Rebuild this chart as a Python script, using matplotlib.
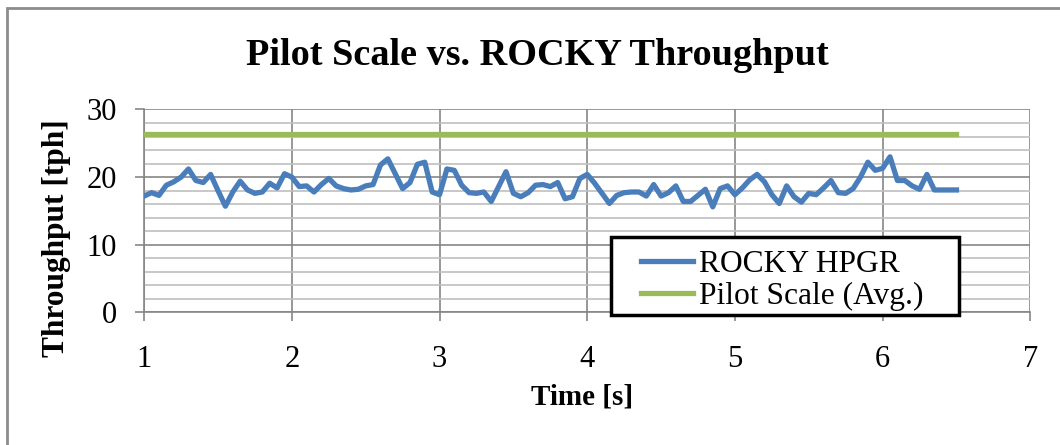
import numpy as np
import matplotlib.pyplot as plt
from matplotlib.patches import Rectangle
from matplotlib.ticker import MultipleLocator

# Dados (passo de 0.05 s)
tempo = np.round(np.arange(1.0, 6.5001, 0.05), 2)
rocky_hpgr = [
    17.2, 17.7, 17.3, 18.8, 19.3, 20.0, 21.2, 19.5, 19.2, 20.4,
    18.0, 15.7, 17.8, 19.4, 18.1, 17.6, 17.8, 19.1, 18.4, 20.5,
    20.0, 18.6, 18.7, 17.8, 18.9, 19.8, 18.7, 18.3, 18.1, 18.2,
    18.7, 18.9, 21.8, 22.7, 20.5, 18.3, 19.2, 21.9, 22.2, 17.8,
    17.4, 21.2, 21.0, 18.8, 17.7, 17.6, 17.8, 16.4, 18.6, 20.8,
    17.6, 17.1, 17.7, 18.8, 18.9, 18.6, 19.2, 16.8, 17.1, 19.8,
    20.4, 19.1, 17.6, 16.1, 17.3, 17.7, 17.8, 17.8, 17.2, 18.9,
    17.2, 17.7, 18.7, 16.4, 16.4, 17.3, 18.2, 15.6, 18.3, 18.7,
    17.4, 18.4, 19.6, 20.4, 19.3, 17.4, 16.1, 18.7, 17.1, 16.3,
    17.6, 17.4, 18.4, 19.5, 17.7, 17.6, 18.3, 20.0, 22.2, 21.0,
    21.3, 23.0, 19.5, 19.5, 18.7, 18.2, 20.4, 18.1, 18.1, 18.1, 18.1,
]
pilot_media = 26.4
pilot_x = [1.0, 6.5]
pilot_y = [pilot_media, pilot_media]

plt.rcParams['font.family'] = ['Liberation Serif', 'DejaVu Serif']

fig = plt.figure(figsize=(10.6, 4.45), dpi=100)
ax = fig.add_axes([0.136, 0.298, 0.836, 0.456])

# Moldura cinza da figura
fig.patches.append(Rectangle((7 / 1060, -0.1), 1.2, 1.1 - 8 / 445,
                             transform=fig.transFigure, fill=False,
                             edgecolor='#8c8c8c', linewidth=2))

ax.plot(tempo, rocky_hpgr, color='#4A7EBB', linewidth=3.8, label='ROCKY HPGR',
        zorder=3)
ax.plot(pilot_x, pilot_y, color='#9BBB59', linewidth=3.8, label='Pilot Scale (Avg.)',
        zorder=3)

ax.set_xlim(1, 7)
ax.set_ylim(0, 30)
ax.xaxis.set_major_locator(MultipleLocator(1))
ax.yaxis.set_major_locator(MultipleLocator(10))
ax.yaxis.set_minor_locator(MultipleLocator(2))

ax.grid(which='major', axis='both', color='#868686', linewidth=1.2)
ax.grid(which='minor', axis='y', color='#bfbfbf', linewidth=1.2)
ax.set_axisbelow(True)

for s in ['top', 'right']:
    ax.spines[s].set_visible(False)
for s in ['left', 'bottom']:
    ax.spines[s].set_color('#868686')
    ax.spines[s].set_linewidth(1.2)

ax.tick_params(axis='both', which='major', direction='out', length=6.5,
               color='#868686', width=1.2, labelsize=22)
ax.tick_params(axis='x', which='major', pad=17)
ax.tick_params(axis='y', which='major', pad=13)
ax.tick_params(axis='y', which='minor', length=0)

ax.set_xlabel('Time [s]', fontsize=21, fontweight='bold')
ax.set_ylabel('Throughput [tph]', fontsize=22.6, fontweight='bold')
ax.xaxis.set_label_coords(0.494, -0.348)
ax.yaxis.set_label_coords(-0.082, 0.366)
fig.text(0.507, 0.876, 'Pilot Scale vs. ROCKY Throughput', ha='center', va='center',
         fontsize=27.5, fontweight='bold')

# Caixa da legenda
ax.add_patch(Rectangle((0.527, -0.013), 0.392, 0.384, transform=ax.transAxes,
                       facecolor='white', edgecolor='black', linewidth=2.5,
                       clip_on=False, zorder=4))
leg = ax.legend(loc='upper left', bbox_to_anchor=(0.561, 0.31), fontsize=22.7,
                frameon=False, borderpad=0, borderaxespad=0, handlelength=1.65,
                handletextpad=0.17, labelspacing=0.1)
leg.set_zorder(5)

plt.savefig('out.png', dpi=100)
